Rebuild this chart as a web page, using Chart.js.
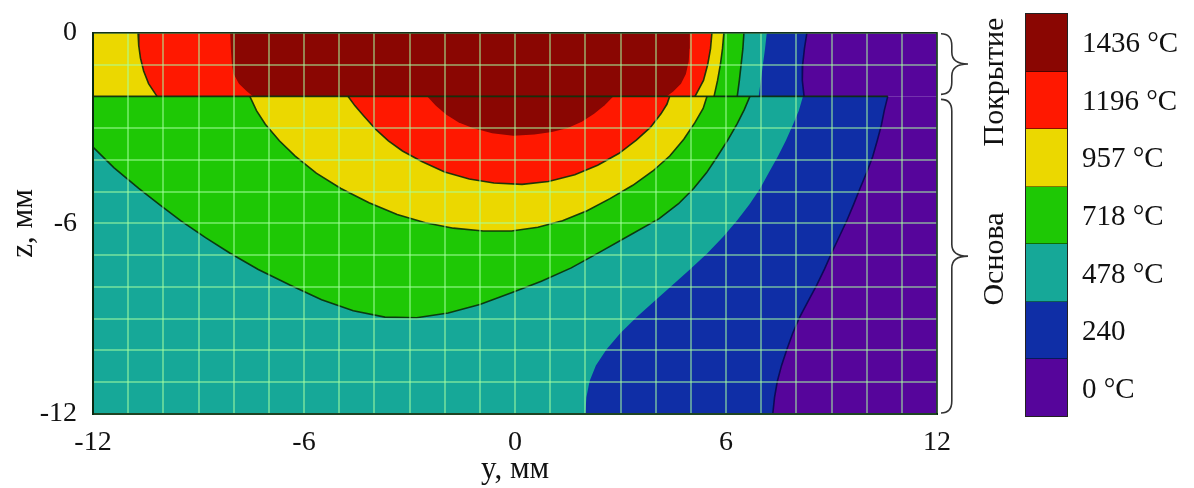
<!DOCTYPE html>
<html>
<head>
<meta charset="utf-8">
<script src="https://cdn.jsdelivr.net/npm/chart.js@4.4.1/dist/chart.umd.min.js"></script>
<style>
  html, body { margin: 0; padding: 0; background: #fff; }
  #wrap { position: relative; width: 1194px; height: 488px; overflow: hidden; }
  #chart { position: absolute; left: 0; top: 0; }
  #colorbar { position: absolute; left: 1025px; top: 13px; width: 43px; height: 404px;
              display: flex; flex-direction: column; border: 1px solid #222; box-sizing: border-box; }
  .cell { flex: 1; border-bottom: 1px solid rgba(0, 0, 0, 0.45); }
  .cell:last-child { border-bottom: none; }
  .cblabel { position: absolute; left: 1082px; font: 29px 'Liberation Serif', serif; color: #111;
             transform: translateY(-50%); white-space: nowrap; }
</style>
</head>
<body>
<div id="wrap">
  <canvas id="chart" width="1194" height="488"></canvas>
  <div id="colorbar"></div>
</div>
<script>
// temperature levels (hottest first) and their colours
const levelLabels = ['1436 °C', '1196 °C', '957 °C', '718 °C', '478 °C', '240', '0 °C'];
const levelColors = ['#8a0602', '#ff1800', '#ebd800', '#1ec805', '#16a898', '#0f2ea6', '#56059b'];

// axes, mm
const xTicks = [-12, -6, 0, 6, 12];
const yTicks = [-12, -6, 0];
const yMin = -12, yMax = 12;        // horizontal coordinate y
const zTop = 0, zIface = -2, zBottom = -12;   // coating 0..-2, base below

// contour boundaries [y, z]
// base: edge of the region hotter than each level
const baseDarkEdge = [[-2.5, -2], [-2.25, -2.3], [-1.95, -2.58], [-1.6, -2.82], [-1.2, -3.0], [-0.65, -3.16],
  [-0.05, -3.24], [0.55, -3.2], [1.05, -3.12], [1.5, -3.0], [1.9, -2.8], [2.25, -2.55], [2.55, -2.28], [2.8, -2]];
const baseRedEdge = [[-4.75, -2], [-4.55, -2.3], [-4.3, -2.62], [-3.95, -3.05], [-3.6, -3.4], [-3.2, -3.72],
  [-2.65, -4.05], [-2.0, -4.38], [-1.3, -4.6], [-0.6, -4.73], [0.2, -4.77], [0.95, -4.68], [1.7, -4.47],
  [2.35, -4.17], [2.95, -3.8], [3.45, -3.38], [3.85, -2.98], [4.15, -2.55], [4.32, -2.25], [4.4, -2]];
const baseYellowEdge = [[-7.54, -2], [-7.35, -2.45], [-7.1, -2.88], [-6.7, -3.4], [-6.25, -3.88], [-5.65, -4.42],
  [-4.95, -4.9], [-4.15, -5.35], [-3.35, -5.72], [-2.55, -5.98], [-1.75, -6.15], [-0.9, -6.24], [-0.1, -6.24],
  [0.65, -6.12], [1.35, -5.92], [2.05, -5.6], [2.7, -5.22], [3.35, -4.8], [3.92, -4.35], [4.4, -3.88],
  [4.8, -3.35], [5.12, -2.82], [5.35, -2.38], [5.46, -2]];
const baseGreenEdge = [[-12, -3.6], [-11.4, -4.25], [-10.7, -4.9], [-10.1, -5.42], [-9.5, -5.92], [-8.8, -6.45],
  [-8.1, -6.94], [-7.3, -7.45], [-6.4, -7.94], [-5.5, -8.4], [-4.6, -8.75], [-3.7, -8.95], [-2.8, -8.97],
  [-1.9, -8.82], [-1.0, -8.55], [-0.1, -8.18], [0.75, -7.82], [1.6, -7.4], [2.45, -6.88], [3.3, -6.35],
  [4.1, -5.85], [4.65, -5.38], [5.08, -4.9], [5.45, -4.4], [5.75, -3.9], [6.05, -3.38], [6.32, -2.86],
  [6.52, -2.42], [6.68, -2]];
const baseTealEdge = [[8.19, -2], [8.07, -2.45], [7.9, -2.9], [7.7, -3.4], [7.47, -3.9], [7.22, -4.4],
  [6.97, -4.9], [6.67, -5.4], [6.32, -5.9], [5.92, -6.42], [5.47, -6.94], [4.98, -7.44], [4.48, -7.94],
  [3.97, -8.44], [3.47, -8.94], [3.0, -9.45], [2.6, -9.97], [2.3, -10.47], [2.12, -10.97], [2.03, -11.48], [2.0, -12]];
const baseBlueEdge = [[10.6, -2], [10.5, -2.45], [10.42, -2.9], [10.3, -3.4], [10.17, -3.9], [10.0, -4.4],
  [9.81, -4.9], [9.63, -5.4], [9.44, -5.9], [9.22, -6.42], [9.0, -6.94], [8.8, -7.44], [8.58, -7.94],
  [8.34, -8.44], [8.1, -8.94], [7.9, -9.45], [7.73, -9.97], [7.58, -10.47], [7.46, -10.97], [7.38, -11.48], [7.33, -12]];

// coating
const coatRedLeft = [[-10.72, 0], [-10.7, -0.4], [-10.65, -0.8], [-10.56, -1.2], [-10.42, -1.6], [-10.18, -2]];
const coatDarkLeft = [[-8.1, 0], [-8.08, -0.5], [-8.05, -1], [-8.0, -1.3], [-7.85, -1.6], [-7.62, -1.85], [-7.45, -2]];
const coatDarkRight = [[4.97, 0], [4.96, -0.5], [4.94, -0.9], [4.86, -1.3], [4.72, -1.6], [4.5, -1.85], [4.32, -2]];
const coatRedRight = [[5.6, 0], [5.56, -0.5], [5.48, -1], [5.36, -1.5], [5.12, -2]];
const coatYellowRight = [[5.94, 0], [5.9, -0.5], [5.84, -1], [5.76, -1.5], [5.66, -2]];
const coatGreenRight = [[6.51, 0], [6.48, -0.5], [6.43, -1], [6.38, -1.5], [6.32, -2]];
const coatTealRight = [[7.16, 0], [7.11, -0.5], [7.05, -1], [6.99, -1.5], [6.93, -2]];
const coatBlueRight = [[8.3, 0], [8.23, -0.5], [8.18, -1], [8.17, -1.5], [8.22, -2]];

function pts(arr) {
    return arr.map(p => ({ x: p[0], y: p[1] }));
}

function rect(z1, z2) {
    return [[yMin, z1], [yMax, z1], [yMax, z2], [yMin, z2]];
}

function fromLeft(zA, edge, zB) {
    return [[yMin, zA]].concat(edge, zB === undefined ? [] : [[yMin, zB]]);
}

// filled regions, bottom layer first
const regions = [
    [rect(zIface, zBottom), 6],
    [fromLeft(zIface, baseBlueEdge, zBottom), 5],
    [fromLeft(zIface, baseTealEdge, zBottom), 4],
    [fromLeft(zIface, baseGreenEdge), 3],
    [baseYellowEdge, 2],
    [baseRedEdge, 1],
    [baseDarkEdge, 0],
    [rect(zTop, zIface), 6],
    [fromLeft(zTop, coatBlueRight, zIface), 5],
    [fromLeft(zTop, coatTealRight, zIface), 4],
    [fromLeft(zTop, coatGreenRight, zIface), 3],
    [fromLeft(zTop, coatYellowRight, zIface), 2],
    [coatRedLeft.concat(coatRedRight.slice().reverse()), 1],
    [coatDarkLeft.concat(coatDarkRight.slice().reverse()), 0]
];

const lineDark = 'rgba(10, 45, 10, 0.9)';
const lineNavy = 'rgba(5, 5, 70, 0.8)';
const contours = [
    [baseRedEdge, lineDark],
    [baseYellowEdge, lineDark],
    [baseGreenEdge, lineDark],
    [baseBlueEdge, lineNavy],
    [[[yMin, zIface], [baseBlueEdge[0][0], zIface]], lineDark],
    [coatRedLeft, lineDark],
    [coatRedRight, lineDark],
    [coatYellowRight, lineDark],
    [coatGreenRight, lineDark],
    [coatBlueRight, lineNavy]
];

const datasets = [];
regions.forEach(r => {
    datasets.push({
        data: pts(r[0]),
        backgroundColor: levelColors[r[1]],
        borderWidth: 0,
        pointRadius: 0,
        pointHitRadius: 0,
        tension: 0,
        fill: 'shape'
    });
});
contours.forEach(c => {
    datasets.push({
        data: pts(c[0]),
        borderColor: c[1],
        borderWidth: 1.6,
        pointRadius: 0,
        pointHitRadius: 0,
        tension: 0,
        fill: false
    });
});
// first dataset at the bottom
datasets.forEach((d, i) => { d.order = datasets.length - i; });

function brace(ctx, x, yTop, yBot, w) {
    const q = w * 0.4;
    const ym = (yTop + yBot) / 2;
    const r = Math.min(12, (yBot - yTop) / 5);
    ctx.beginPath();
    ctx.moveTo(x, yTop);
    ctx.quadraticCurveTo(x + q, yTop, x + q, yTop + r);
    ctx.lineTo(x + q, ym - r);
    ctx.quadraticCurveTo(x + q, ym, x + w, ym);
    ctx.quadraticCurveTo(x + q, ym, x + q, ym + r);
    ctx.lineTo(x + q, yBot - r);
    ctx.quadraticCurveTo(x + q, yBot, x, yBot);
    ctx.stroke();
}

const sideNotes = {
    id: 'sideNotes',
    afterDraw(chart) {
        const ctx = chart.ctx;
        const area = chart.chartArea;
        const zs = chart.scales.y;
        ctx.save();
        // frame around the plot
        ctx.strokeStyle = '#0b2a12';
        ctx.lineWidth = 1.5;
        ctx.strokeRect(area.left, area.top, area.right - area.left, area.bottom - area.top);
        // braces for the coating and the base
        ctx.strokeStyle = '#333';
        ctx.lineWidth = 1.6;
        const bx = area.right + 4;
        brace(ctx, bx, zs.getPixelForValue(zTop) + 1, zs.getPixelForValue(zIface) - 2, 27);
        brace(ctx, bx, zs.getPixelForValue(zIface) + 3, zs.getPixelForValue(zBottom) - 1, 27);
        // rotated labels
        ctx.fillStyle = '#111';
        ctx.font = '30px "Liberation Serif"';
        ctx.textAlign = 'center';
        ctx.textBaseline = 'middle';
        [['Покрытие', 82], ['Основа', 259]].forEach(t => {
            ctx.save();
            ctx.translate(area.right + 58, t[1]);
            ctx.rotate(-Math.PI / 2);
            ctx.fillText(t[0], 0, 0);
            ctx.restore();
        });
        ctx.restore();
    }
};

function drawChart() {
    const tickFont = { family: 'Liberation Serif', size: 28 };
    const titleFont = { family: 'Liberation Serif', size: 31, lineHeight: 1.2 };
    const gridColor = 'rgba(165, 255, 160, 0.5)';

    new Chart(document.getElementById('chart').getContext('2d'), {
        type: 'line',
        data: { datasets: datasets },
        plugins: [sideNotes],
        options: {
            responsive: false,
            animation: false,
            devicePixelRatio: 1,
            layout: { padding: { top: 18, right: 257, left: 0, bottom: 0 } },
            plugins: {
                legend: { display: false },
                tooltip: { enabled: false }
            },
            scales: {
                x: {
                    type: 'linear',
                    min: yMin,
                    max: yMax,
                    afterFit: s => { s.height = 74; },
                    ticks: {
                        stepSize: 1,
                        autoSkip: false,
                        maxRotation: 0,
                        padding: 12,
                        color: '#111',
                        font: tickFont,
                        callback: v => xTicks.includes(v) ? String(v) : ''
                    },
                    grid: { color: gridColor, lineWidth: 2, drawTicks: false, z: 1 },
                    border: { display: true, color: '#0b2a12', width: 2, z: 1 },
                    title: { display: true, text: 'y, мм', color: '#111', font: titleFont, padding: 0 }
                },
                y: {
                    type: 'linear',
                    min: zBottom,
                    max: zTop,
                    afterFit: s => { s.width = 93; },
                    ticks: {
                        stepSize: 1,
                        autoSkip: false,
                        padding: 16,
                        color: '#111',
                        font: tickFont,
                        callback: v => yTicks.includes(v) ? String(v) : ''
                    },
                    grid: {
                        // keep the coating/base interface line dark
                        color: c => (c.tick && c.tick.value === zIface) ? 'rgba(0,0,0,0)' : gridColor,
                        lineWidth: 2,
                        drawTicks: false,
                        z: 1
                    },
                    border: { display: true, color: '#0b2a12', width: 2, z: 1 },
                    title: { display: true, text: 'z, мм', color: '#111', font: titleFont, padding: { top: 5, bottom: 0 } }
                }
            }
        }
    });

    // colour bar
    const bar = document.getElementById('colorbar');
    const wrap = document.getElementById('wrap');
    const cellH = 404 / levelColors.length;
    levelColors.forEach((c, i) => {
        const cell = document.createElement('div');
        cell.className = 'cell';
        cell.style.background = c;
        bar.appendChild(cell);
        const lab = document.createElement('div');
        lab.className = 'cblabel';
        lab.textContent = levelLabels[i];
        lab.style.top = (13 + (i + 0.5) * cellH) + 'px';
        wrap.appendChild(lab);
    });
}

if (document.fonts && document.fonts.load) {
    document.fonts.load('28px "Liberation Serif"').then(drawChart, drawChart);
} else {
    drawChart();
}
</script>
</body>
</html>
